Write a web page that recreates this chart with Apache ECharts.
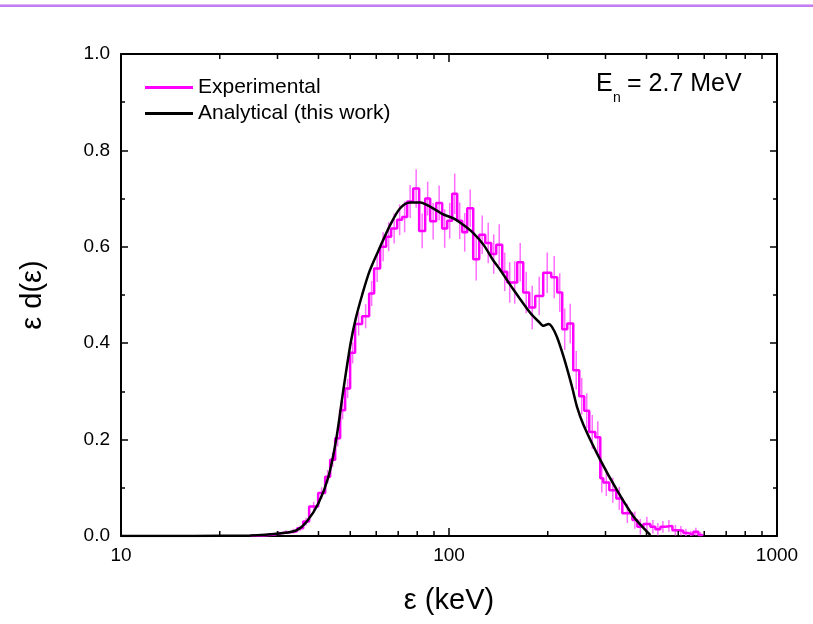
<!DOCTYPE html>
<html><head><meta charset="utf-8">
<script src="https://cdn.jsdelivr.net/npm/echarts@6/dist/echarts.min.js"></script>
<style>html,body{margin:0;padding:0;background:#fff}#c{width:813px;height:624px}</style>
</head><body><div id="c"></div>
<script>
// ---- data ----
const binEdges = [24.75, 27.0, 29.5, 31.0, 32.7, 34.43, 35.92, 37.46, 39.91, 41.92, 43.42, 44.97, 46.57, 48.23, 49.95, 51.73, 54.34, 57.08, 59.12, 61.67, 64.32, 66.62, 69.49, 71.97, 74.55, 77.75, 81.10, 84.59, 87.61, 91.38, 95.31, 98.74, 102.27, 105.93, 109.71, 113.64, 118.53, 123.63, 128.94, 134.49, 139.29, 145.28, 150.47, 155.85, 161.41, 168.36, 175.61, 183.16, 193.75, 204.94, 213.77, 221.40, 229.31, 239.19, 249.50, 258.41, 267.65, 279.25, 289.24, 295.40, 308.13, 323.65, 337.59, 362.23, 375.19, 391.37, 411.10, 425.80, 441.01, 456.77, 479.79, 500.45, 518.31, 536.82, 555.98, 575.85, 592.25];
const expValues = [0.001, 0.003, 0.006, 0.008, 0.010, 0.016, 0.030, 0.061, 0.089, 0.123, 0.158, 0.203, 0.261, 0.306, 0.380, 0.440, 0.456, 0.503, 0.555, 0.600, 0.621, 0.638, 0.656, 0.662, 0.694, 0.721, 0.633, 0.700, 0.653, 0.691, 0.638, 0.654, 0.710, 0.654, 0.630, 0.680, 0.574, 0.625, 0.608, 0.585, 0.604, 0.548, 0.526, 0.526, 0.568, 0.505, 0.474, 0.498, 0.546, 0.537, 0.505, 0.429, 0.441, 0.344, 0.290, 0.260, 0.216, 0.205, 0.120, 0.111, 0.095, 0.078, 0.047, 0.033, 0.019, 0.025, 0.019, 0.014, 0.019, 0.021, 0.012, 0.011, 0.006, 0.003, 0.009, 0.002];
const expErrors = [0.002, 0.003, 0.004, 0.004, 0.005, 0.006, 0.008, 0.010, 0.012, 0.014, 0.015, 0.017, 0.019, 0.020, 0.022, 0.024, 0.025, 0.026, 0.028, 0.030, 0.030, 0.031, 0.032, 0.032, 0.034, 0.040, 0.036, 0.035, 0.038, 0.036, 0.040, 0.037, 0.042, 0.038, 0.040, 0.039, 0.044, 0.040, 0.042, 0.041, 0.043, 0.040, 0.042, 0.044, 0.040, 0.043, 0.045, 0.040, 0.042, 0.044, 0.040, 0.043, 0.041, 0.040, 0.038, 0.036, 0.035, 0.033, 0.030, 0.028, 0.026, 0.024, 0.020, 0.018, 0.016, 0.015, 0.014, 0.013, 0.012, 0.012, 0.011, 0.010, 0.009, 0.008, 0.008, 0.006];
const anaX = [10, 24.75, 31.27, 34.36, 36.86, 39.99, 42.90, 45.28, 47.56, 50.12, 51.92, 54.34, 57.29, 61.67, 66.15, 70.96, 76.12, 81.68, 85.61, 91.85, 96.21, 103.2, 110.7, 118.8, 127.5, 136.7, 143.3, 153.7, 176.8, 187.5, 194.2, 201.1, 206.0, 213.4, 223.5, 237.1, 245.6, 257.3, 289.2, 325.2, 365.6, 411.1];
const anaY = [0, 0.001, 0.006, 0.012, 0.030, 0.068, 0.123, 0.200, 0.300, 0.400, 0.450, 0.500, 0.550, 0.600, 0.645, 0.680, 0.692, 0.692, 0.687, 0.675, 0.667, 0.659, 0.645, 0.628, 0.604, 0.571, 0.552, 0.521, 0.463, 0.445, 0.436, 0.440, 0.434, 0.413, 0.372, 0.310, 0.268, 0.230, 0.158, 0.095, 0.040, 0.002];
const xMinorTicks = [20, 30, 40, 50, 60, 70, 80, 90, 200, 300, 400, 500, 600, 700, 800, 900];
const seriesNames = ['Experimental', 'Analytical (this work)'];

// ---- build ----
const FONT = "'Liberation Sans', Arial, sans-serif";
const stepData = [[binEdges[0], 0]];
const errData = [];
for (let i = 0; i < expValues.length; i++) {
  stepData.push([binEdges[i], expValues[i]]);
  stepData.push([binEdges[i + 1], expValues[i]]);
  const c = Math.sqrt(binEdges[i] * binEdges[i + 1]);
  errData.push([c, Math.max(0, expValues[i] - expErrors[i]), expValues[i] + expErrors[i]]);
}
stepData.push([binEdges[binEdges.length - 1], 0]);
const anaData = anaX.map((x, i) => [x, anaY[i]]);

const axisLineStyle = { color: '#000', width: 2 };
const baseX = {
  type: 'log', logBase: 10, min: 10, max: 1000, gridIndex: 0,
  axisLine: { show: true, onZero: false, lineStyle: axisLineStyle },
  axisTick: { show: true, inside: true, length: 8, lineStyle: { color: '#000', width: 1.5 } },
  splitLine: { show: false }
};
const baseY = {
  type: 'value', min: 0, max: 1, interval: 0.2, gridIndex: 0,
  axisLine: { show: true, onZero: false, lineStyle: axisLineStyle },
  axisTick: { show: true, inside: true, length: 7, lineStyle: { color: '#000', width: 1.5 } },
  minorTick: { show: true, splitNumber: 2, length: 4, lineStyle: { color: '#000', width: 1.5 } },
  splitLine: { show: false }
};

const chart = echarts.init(document.getElementById('c'), null, { renderer: 'canvas' });
chart.setOption({
  animation: false,
  backgroundColor: '#fff',
  grid: { left: 121, right: 36, top: 54, bottom: 88, containLabel: false },
  xAxis: [
    Object.assign({}, baseX, {
      position: 'bottom',
      axisLabel: { color: '#000', fontSize: 19, fontFamily: FONT, margin: 10, formatter: v => String(v) },
      name: 'ε (keV)', nameLocation: 'middle', nameGap: 50,
      nameTextStyle: { color: '#000', fontSize: 29, fontFamily: FONT }
    }),
    Object.assign({}, baseX, { position: 'top', axisLabel: { show: false } })
  ],
  yAxis: [
    Object.assign({}, baseY, {
      position: 'left',
      axisLabel: { color: '#000', fontSize: 19, fontFamily: FONT, margin: 11, formatter: v => v.toFixed(1) },
      name: 'ε d(ε)', nameLocation: 'middle', nameGap: 74, nameRotate: 90,
      nameTextStyle: { color: '#000', fontSize: 29, fontFamily: FONT }
    }),
    Object.assign({}, baseY, { position: 'right', axisLabel: { show: false } })
  ],
  legend: {
    show: true, orient: 'vertical', left: 140, top: 72,
    itemWidth: 48, itemHeight: 3, itemGap: 5,
    textStyle: { color: '#000', fontSize: 21, fontFamily: FONT, lineHeight: 20 },
    data: [{ name: seriesNames[0], icon: 'rect' }, { name: seriesNames[1], icon: 'rect' }]
  },
  graphic: [
    { type: 'rect', left: 0, top: 4, shape: { width: 813, height: 1 }, style: { fill: '#dfb3f7' }, silent: true },
    { type: 'rect', left: 0, top: 5, shape: { width: 813, height: 2 }, style: { fill: '#c47cf1' }, silent: true },
    { type: 'text', x: 596, y: 84, style: { text: 'E', fontSize: 25, fontFamily: FONT, fill: '#000', verticalAlign: 'middle' } },
    { type: 'text', x: 613, y: 98, style: { text: 'n', fontSize: 14, fontFamily: FONT, fill: '#000', verticalAlign: 'middle' } },
    { type: 'text', x: 627, y: 84, style: { text: '= 2.7 MeV', fontSize: 25, fontFamily: FONT, fill: '#000', verticalAlign: 'middle' } }
  ],
  series: [
    {
      name: 'errbars', type: 'custom', xAxisIndex: 0, yAxisIndex: 0, silent: true, z: 1,
      data: errData, encode: { x: 0, y: [1, 2] },
      renderItem: function (params, api) {
        const x = api.value(0);
        const p1 = api.coord([x, api.value(1)]);
        const p2 = api.coord([x, api.value(2)]);
        return { type: 'line', shape: { x1: p1[0], y1: p1[1], x2: p2[0], y2: p2[1] },
          style: { stroke: '#ff55ff', lineWidth: 1.5, opacity: 0.85 } };
      }
    },
    {
      name: seriesNames[0], type: 'line', xAxisIndex: 0, yAxisIndex: 0, data: stepData,
      showSymbol: false, symbol: 'none', z: 2,
      lineStyle: { color: '#ff00ff', width: 2.5 }, itemStyle: { color: '#ff00ff' }
    },
    {
      name: seriesNames[1], type: 'line', xAxisIndex: 0, yAxisIndex: 0, data: anaData,
      showSymbol: false, symbol: 'none', smooth: 0.3, z: 3,
      lineStyle: { color: '#000', width: 2.5 }, itemStyle: { color: '#000' }
    },
    {
      name: 'minorTicks', type: 'custom', xAxisIndex: 0, yAxisIndex: 0, silent: true, z: 4,
      data: xMinorTicks.map(v => [v, 0]), encode: { x: 0, y: 1 },
      renderItem: function (params, api) {
        const v = api.value(0);
        const b = api.coord([v, 0]);
        const t = api.coord([v, 1]);
        return { type: 'group', children: [
          { type: 'line', shape: { x1: b[0], y1: b[1], x2: b[0], y2: b[1] - 5 }, style: { stroke: '#000', lineWidth: 1.5 } },
          { type: 'line', shape: { x1: t[0], y1: t[1], x2: t[0], y2: t[1] + 5 }, style: { stroke: '#000', lineWidth: 1.5 } }
        ] };
      }
    }
  ]
});
</script></body></html>
